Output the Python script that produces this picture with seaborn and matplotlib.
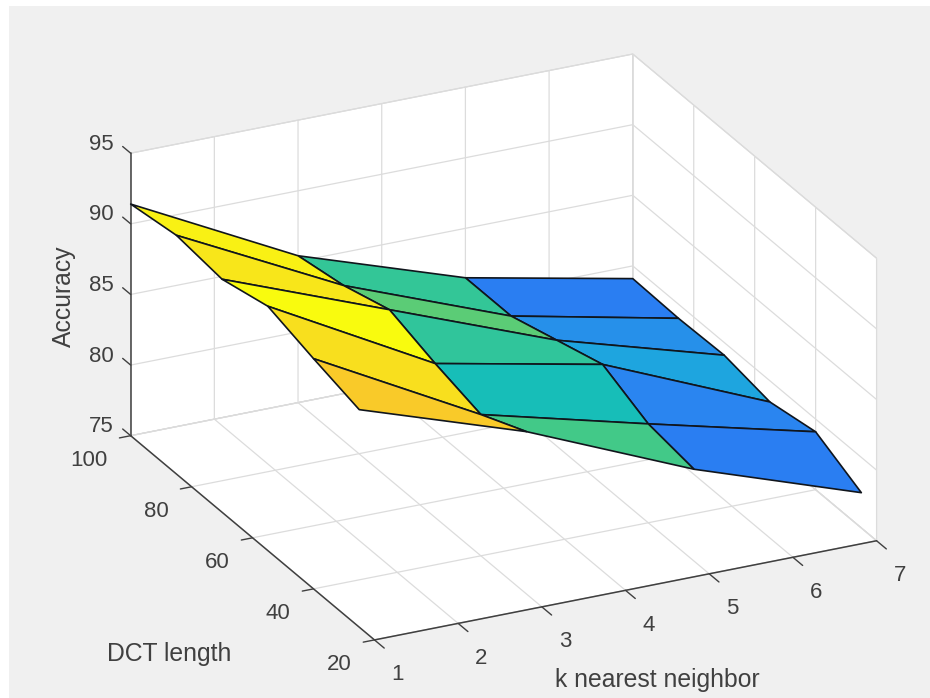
import numpy as np
import seaborn as sns
import matplotlib.pyplot as plt
from matplotlib.patches import Rectangle
from mpl_toolkits.mplot3d import proj3d

k_values = [1, 3, 5, 7]
dct_values = [25, 40, 55, 70, 85, 100]

# accuracy, one list per DCT length
acc_25 = [90.4, 86.5, 81.5, 77.5]
acc_40 = [91.3, 85.0, 82.0, 79.1]
acc_55 = [92.3, 85.9, 83.5, 78.5]
acc_70 = [91.5, 87.0, 82.5, 79.1]
acc_85 = [91.9, 86.0, 81.5, 79.0]
acc_100 = [91.4, 85.4, 81.5, 79.1]

k_ticks = [1, 2, 3, 4, 5, 6, 7]
dct_ticks = [20, 40, 60, 80, 100]
acc_ticks = [75, 80, 85, 90, 95]

# parula-like colours as they look in the picture
parula = ['#352a87', '#2f55d8', '#2b70f6', '#2a84f0', '#1ea4e0', '#15bdbb',
          '#3cc98c', '#85cf58', '#fbb532', '#f8d126', '#f9fb0e']

sns.set_theme(style='white', rc={'grid.color': '#dcdcdc', 'grid.linewidth': 0.9})
plt.rcParams['font.family'] = ['Liberation Sans', 'DejaVu Sans']
txt_col = '#404040'

X, Y = np.meshgrid(k_values, dct_values)
Z = np.array([acc_25, acc_40, acc_55, acc_70, acc_85, acc_100])
cmap = sns.blend_palette(parula, as_cmap=True)
colors = cmap((Z - Z.min()) / (Z.max() - Z.min()))

W, H = 930, 698
fig = plt.figure(figsize=(W / 100, H / 100), dpi=100, facecolor='white')
fig.add_artist(Rectangle((9 / W, 0), 1 - 9 / W, 1 - 6 / H, transform=fig.transFigure,
                         facecolor='#f0f0f0', edgecolor='none', zorder=-5))

side = 823
ax = fig.add_axes([81 / W, -71.6 / H, side / W, side / H], projection='3d', proj_type='ortho')
ax.patch.set_visible(False)
ax.view_init(elev=24, azim=-115.9)
ax.set_box_aspect((1, 1, 0.554))

ax.plot_surface(X, Y, Z, facecolors=colors, rstride=1, cstride=1, shade=False,
                edgecolor='#10151c', linewidth=1.2, antialiased=True)

ax.set_xlim(1, 7)
ax.set_ylim(20, 100)
ax.set_zlim(75, 95)
ax.set_xticks(k_ticks)
ax.set_yticks(dct_ticks)
ax.set_zticks(acc_ticks)
ax.set_xticklabels([''] * len(k_ticks))
ax.set_yticklabels([''] * len(dct_ticks))
ax.set_zticklabels([''] * len(acc_ticks))
ax.tick_params(colors=txt_col)

for axis, tick_in, tick_out in [(ax.xaxis, 0.5, 0), (ax.yaxis, 0.28, 0), (ax.zaxis, 0, 0.41)]:
    axis.set_pane_color((1, 1, 1, 1))
    axis.pane.set_edgecolor('#d4d4d4')
    axis.pane.set_linewidth(0.8)
    axis.line.set_color('#404040')
    axis.line.set_linewidth(1.1)
    # which factor points away from the box depends on the axis here
    axis._axinfo['tick']['inward_factor'] = tick_in
    axis._axinfo['tick']['outward_factor'] = tick_out
    axis._axinfo['tick']['linewidth'] = {True: 1.0, False: 0.5}
# z axis on the left edge, ticks along the DCT direction
ax.zaxis._axinfo['juggled'] = (1, 2, 0)
ax.zaxis.set_ticks_position('lower')


# tick labels sit at a fixed pixel offset from the projected tick
def tick_label(x, y, z, s, dx, dy, ha):
    px, py, _ = proj3d.proj_transform(x, y, z, ax.get_proj())
    ax.annotate(str(s), xy=(px, py), xytext=(dx * 0.72, dy * 0.72), textcoords='offset points',
                fontsize=16, color=txt_col, ha=ha, va='center', annotation_clip=False)


for k in k_ticks:
    tick_label(k, 20, 75, k, 23, -35, 'center')
for d in dct_ticks:
    tick_label(1, d, 75, d, -23, -25, 'right')
for a in acc_ticks:
    tick_label(1, 100, a, a, -17, 9, 'right')

fig.text(64 / W, 1 - 296 / H, 'Accuracy', rotation=90, fontsize=17.8, color=txt_col, ha='center', va='center')
fig.text(169 / W, 1 - 654 / H, 'DCT length', fontsize=17.8, color=txt_col, ha='center', va='center')
fig.text(657 / W, 1 - 680 / H, 'k nearest neighbor', fontsize=17.8, color=txt_col, ha='center', va='center')

fig.savefig('out.png', dpi=100)
